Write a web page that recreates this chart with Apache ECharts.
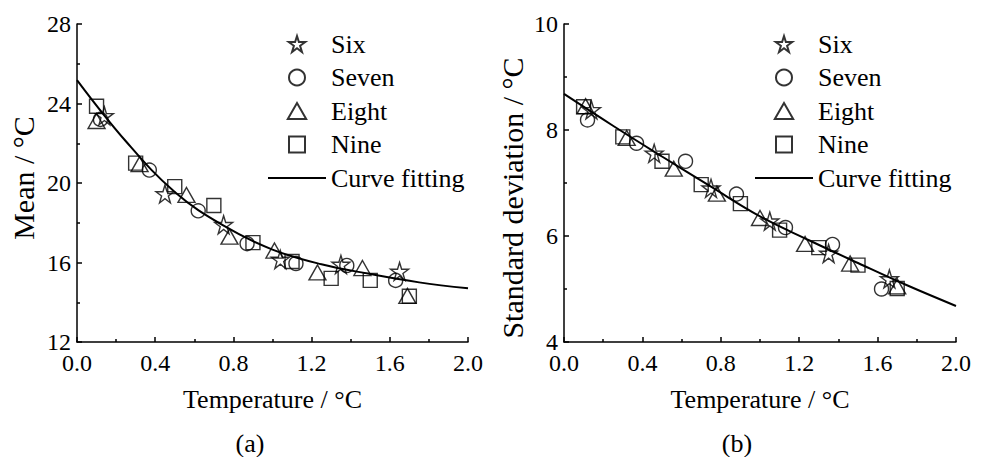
<!DOCTYPE html>
<html>
<head>
<meta charset="utf-8">
<script src="https://cdn.jsdelivr.net/npm/echarts@6/dist/echarts.min.js"></script>
<style>
html,body{margin:0;padding:0;background:#fff;}
#chart{width:988px;height:457px;}
</style>
</head>
<body>
<div id="chart"></div>
<script>
// ---- Data ----
const seriesNames = ['Six', 'Seven', 'Eight', 'Nine'];
const xTicks = ['0.0', '0.4', '0.8', '1.2', '1.6', '2.0'];
const meanTicks = ['12', '16', '20', '24', '28'];
const sdTicks = ['4', '6', '8', '10'];

// (a) Mean
const meanSix   = [[0.14,23.38],[0.45,19.45],[0.75,17.9],[1.04,16.15],[1.35,15.9],[1.65,15.55]];
const meanSeven = [[0.12,23.2],[0.37,20.65],[0.62,18.6],[0.87,16.95],[1.12,15.95],[1.38,15.85],[1.63,15.1]];
const meanEight = [[0.1,23.12],[0.32,20.95],[0.56,19.4],[0.78,17.3],[1.01,16.6],[1.23,15.5],[1.46,15.72],[1.69,14.32]];
const meanNine  = [[0.1,23.86],[0.3,21.0],[0.5,19.82],[0.7,18.87],[0.9,17.0],[1.1,16.05],[1.3,15.2],[1.5,15.1],[1.7,14.3]];
const meanFit   = [[0,25.18],[0.25,22.1],[0.5,19.55],[0.75,17.85],[1.0,16.65],[1.25,15.91],[1.5,15.42],[1.75,15.0],[2.0,14.7]];

// (b) Standard deviation
const sdSix   = [[0.14,8.38],[0.46,7.56],[0.75,6.9],[1.05,6.28],[1.35,5.67],[1.66,5.19]];
const sdSeven = [[0.12,8.19],[0.37,7.75],[0.62,7.41],[0.88,6.79],[1.13,6.16],[1.37,5.84],[1.62,5.0]];
const sdEight = [[0.11,8.45],[0.32,7.85],[0.56,7.27],[0.78,6.8],[1.0,6.34],[1.23,5.85],[1.46,5.48],[1.7,5.05]];
const sdNine  = [[0.1,8.44],[0.3,7.87],[0.5,7.41],[0.7,6.97],[0.9,6.61],[1.1,6.11],[1.3,5.78],[1.5,5.45],[1.7,5.01]];
const sdFit   = [[0,8.68],[0.25,8.08],[0.5,7.5],[0.75,6.93],[1.0,6.37],[1.25,5.92],[1.5,5.49],[1.75,5.07],[2.0,4.68]];

const captions = ['(a)', '(b)'];
const yNames = ['Mean / °C', 'Standard deviation / °C'];
const xName = 'Temperature / °C';
const fitName = 'Curve fitting';

// ---- Styling ----
const FONT = "'Liberation Serif', 'Times New Roman', serif";
const STAR = 'path://M50,2 L61,37 L98,37 L68,59 L79,95 L50,73 L21,95 L32,59 L2,37 L39,37 Z';
const TRI = 'path://M50,0 L100,87 L0,87 Z';
const SQR = 'path://M0,0 L100,0 L100,100 L0,100 Z';
const symbols = [STAR, 'circle', TRI, SQR];
const sizes = [18, 14, [17, 15], 14];

function xAxis(gi) {
  return {
    gridIndex: gi, type: 'value', min: 0, max: 2, interval: 0.4,
    axisLine: {show: true, onZero: false, lineStyle: {color: '#000', width: 1.5}},
    axisTick: {show: true, inside: true, length: 5, lineStyle: {color: '#000', width: 1.5}},
    minorTick: {show: true, splitNumber: 2, length: 3, lineStyle: {color: '#000', width: 1.5}},
    splitLine: {show: false}, minorSplitLine: {show: false},
    axisLabel: {color: '#000', fontSize: 24, fontFamily: FONT, margin: 11, lineHeight: 20,
      formatter: v => xTicks[Math.round(v / 0.4)] ?? v.toFixed(1)},
    name: xName, nameLocation: 'middle', nameGap: 44,
    nameTextStyle: {color: '#000', fontSize: 26, fontFamily: FONT}
  };
}
function yAxis(gi, min, max, interval, ticks, name, gap, pad) {
  return {
    gridIndex: gi, type: 'value', min: min, max: max, interval: interval,
    axisLine: {show: true, onZero: false, lineStyle: {color: '#000', width: 1.5}},
    axisTick: {show: true, inside: true, length: 5, lineStyle: {color: '#000', width: 1.5}},
    minorTick: {show: true, splitNumber: 2, length: 3, lineStyle: {color: '#000', width: 1.5}},
    splitLine: {show: false}, minorSplitLine: {show: false},
    axisLabel: {color: '#000', fontSize: 24, fontFamily: FONT, margin: 6, lineHeight: 18,
      formatter: v => ticks[Math.round((v - min) / interval)] ?? String(v)},
    name: name, nameLocation: 'middle', nameGap: gap,
    nameTextStyle: {color: '#000', fontSize: 30, fontFamily: FONT, padding: pad}
  };
}

const panels = [
  {data: [meanSix, meanSeven, meanEight, meanNine], fit: meanFit},
  {data: [sdSix, sdSeven, sdEight, sdNine], fit: sdFit}
];

const series = [];
panels.forEach((p, gi) => {
  p.data.forEach((d, k) => {
    series.push({
      name: seriesNames[k], type: 'scatter', xAxisIndex: gi, yAxisIndex: gi,
      data: d, symbol: symbols[k], symbolSize: sizes[k],
      itemStyle: {color: 'rgba(0,0,0,0)', borderColor: '#000', borderWidth: 1.4},
      emphasis: {disabled: true}, z: 3
    });
  });
  series.push({
    name: fitName, type: 'line', xAxisIndex: gi, yAxisIndex: gi,
    data: p.fit, smooth: 0.4, symbol: 'none', showSymbol: false,
    lineStyle: {color: '#000', width: 2}, itemStyle: {color: 'rgba(0,0,0,0)', borderWidth: 0},
    emphasis: {disabled: true}, z: 2
  });
});

function legend(left) {
  const data = seriesNames.map(n => ({name: n})).concat([
    {name: fitName, itemStyle: {opacity: 0}}
  ]);
  return {
    orient: 'vertical', left: left, top: 26, itemWidth: 58, itemHeight: 16, itemGap: 7.5,
    data: data, selectedMode: false, symbolKeepAspect: true,
    textStyle: {color: '#000', fontSize: 26, fontFamily: FONT, lineHeight: 26}
  };
}

const chart = echarts.init(document.getElementById('chart'), null, {renderer: 'svg'});
chart.setOption({
  animation: false,
  backgroundColor: '#fff',
  grid: [
    {left: 77, top: 24, width: 391, height: 318, containLabel: false, outerBoundsMode: 'none'},
    {left: 564, top: 24, width: 392, height: 318, containLabel: false, outerBoundsMode: 'none'}
  ],
  xAxis: [xAxis(0), xAxis(1)],
  yAxis: [
    yAxis(0, 12, 28, 4, meanTicks, yNames[0], 39, [0, 0, 0, 10]),
    yAxis(1, 4, 10, 2, sdTicks, yNames[1], 37, [0, 30, 0, 0])
  ],
  legend: [legend(262), legend(749)],
  series: series,
  graphic: [
    {type: 'text', x: 250, y: 443, style: {text: captions[0], fontSize: 26, fontFamily: FONT, fill: '#000', textAlign: 'center', textVerticalAlign: 'middle'}},
    {type: 'text', x: 737, y: 443, style: {text: captions[1], fontSize: 26, fontFamily: FONT, fill: '#000', textAlign: 'center', textVerticalAlign: 'middle'}}
  ]
});
</script>
</body>
</html>
